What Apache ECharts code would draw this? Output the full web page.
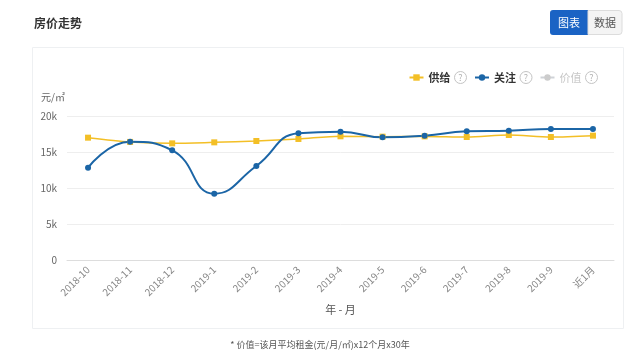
<!DOCTYPE html>
<html><head><meta charset="utf-8">
<script src="https://cdn.jsdelivr.net/npm/echarts@6/dist/echarts.min.js"></script>
<style>html,body{margin:0;padding:0;background:#fff;}#c{width:640px;height:355px;}</style>
</head><body><div id="c"></div>
<script>
const categories = ['2018-10','2018-11','2018-12','2019-1','2019-2','2019-3','2019-4','2019-5','2019-6','2019-7','2019-8','2019-9','近1月'];
const supplyValues = [16990,16400,16200,16340,16530,16810,17180,17130,17170,17080,17360,17080,17270];
const attentionValues = [12820,16430,15230,9210,13060,17590,17820,17040,17270,17870,17960,18190,18190];
const valueValues = [];
const yTicks = [0,5000,10000,15000,20000];

const chart = echarts.init(document.getElementById('c'));
const font = '"Noto Sans CJK SC","Noto Sans",sans-serif';
const rich = {
  t:{fontSize:11,fontFamily:font,fontWeight:'bold',color:'#333'},
  g:{fontSize:11,fontFamily:font,color:'#c8c8c8'},
  s:{width:4},
  q:{fontSize:9,color:'#b0b0b0',borderColor:'#c4c4c4',borderWidth:1,borderRadius:7,width:12,height:12,align:'center',lineHeight:12}
};
chart.setOption({
  animation:false,
  textStyle:{fontFamily:font},
  title:[
    {text:'房价走势',left:29,top:12,textStyle:{fontSize:12,fontWeight:'bold',color:'#333',fontFamily:font}},
    {text:'* 价值=该月平均租金(元/月/㎡)x12个月x30年',left:'center',top:335,textStyle:{fontSize:9,fontWeight:'normal',color:'#555',fontFamily:font}}
  ],
  graphic:[
    {type:'rect',z:-1,shape:{x:32.5,y:47.5,width:591,height:281},style:{fill:'#fff',stroke:'#eef0f2',lineWidth:1}},
    {type:'rect',shape:{x:550,y:10,width:38,height:25,r:[3,0,0,3]},style:{fill:'#1a63c4'}},
    {type:'rect',shape:{x:588,y:10.5,width:34,height:24,r:[0,3,3,0]},style:{fill:'#f4f4f4',stroke:'#dcdcdc'}},
    {type:'text',x:569,y:22.5,style:{text:'图表',fill:'#fff',fontSize:11,fontFamily:font,align:'center',verticalAlign:'middle'}},
    {type:'text',x:605,y:22.5,style:{text:'数据',fill:'#555',fontSize:11,fontFamily:font,align:'center',verticalAlign:'middle'}}
  ],
  legend:{
    top:66,right:37,itemWidth:14,itemHeight:8,itemGap:7,
    data:['供给','关注','价值'],
    selected:{'价值':false},
    inactiveColor:'#ccc',
    formatter:function(n){return (n==='价值'?'{g|':'{t|')+n+'}{s|}{q|?}';},
    textStyle:{rich:rich}
  },
  grid:{left:67,right:26,top:116,bottom:95},
  xAxis:{
    type:'category',data:categories,boundaryGap:true,
    name:'年 - 月',nameLocation:'middle',nameGap:44,
    nameTextStyle:{color:'#555',fontSize:11},
    axisLine:{lineStyle:{color:'#ddd'}},
    axisTick:{lineStyle:{color:'#ddd'},length:5},
    axisLabel:{rotate:45,color:'#888',fontSize:10,margin:8}
  },
  yAxis:{
    type:'value',min:0,max:20000,interval:5000,
    name:'元/㎡',nameLocation:'end',nameGap:14,
    nameTextStyle:{color:'#666',fontSize:10,align:'right',padding:[0,2,0,0]},
    axisLine:{show:false},axisTick:{show:false},
    splitLine:{lineStyle:{color:'#eeeeee'}},
    axisLabel:{color:'#666',fontSize:10,margin:10,formatter:function(v){return yTicks.indexOf(v)>=0?(v===0?'0':(v/1000)+'k'):'';}}
  },
  series:[
    {name:'供给',type:'line',smooth:0.3,data:supplyValues,symbol:'rect',symbolSize:6,
     itemStyle:{color:'#f3bf26'},lineStyle:{color:'#f3bf26',width:1.5}},
    {name:'关注',type:'line',smooth:true,data:attentionValues,symbol:'circle',symbolSize:6,
     itemStyle:{color:'#1b65a6'},lineStyle:{color:'#1b65a6',width:2}},
    {name:'价值',type:'line',smooth:true,data:valueValues,symbol:'circle',symbolSize:6,
     itemStyle:{color:'#bbb'},lineStyle:{color:'#bbb'}}
  ]
});
</script></body></html>
